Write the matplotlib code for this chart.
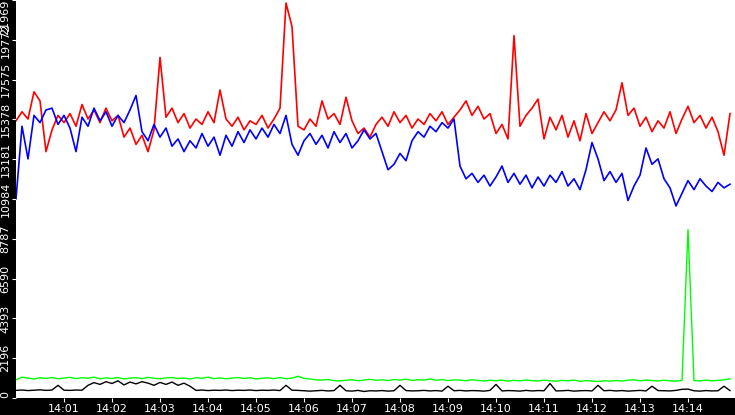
import numpy as np
import matplotlib
matplotlib.use("Agg")
import matplotlib.pyplot as plt

# one sample every 0.125 min starting at 14:00
red = [15300, 15800, 15400, 16900, 16400, 13600, 14800, 15600, 15200, 15700,
       15000, 16200, 15400, 15900, 15200, 16000, 15300, 15600, 14400, 14900,
       14000, 14500, 13600, 14800, 18800, 15500, 16000, 15200, 15700, 14900,
       15400, 15100, 15800, 15200, 17000, 15400, 15000, 15500, 14800, 15300,
       15100, 15600, 14900, 15400, 16000, 21800, 20500, 15000, 14800, 15400,
       15000, 16400, 15400, 15700, 15100, 16600, 15300, 14600, 14900, 14400,
       15100, 15500, 15000, 15800, 15200, 15600, 14900, 15400, 15100, 15700,
       15300, 15800, 15100, 15500, 15900, 16400, 15600, 16100, 15400, 15700,
       14600, 15100, 14300, 20000, 15000, 15600, 16000, 16500, 14300, 15500,
       14800, 15600, 14400, 15300, 14200, 15700, 14600, 15200, 15800, 15300,
       15900, 17400, 15600, 16000, 15000, 15500, 14700, 15300, 14900, 15800,
       14600, 15400, 16100, 15200, 15600, 14900, 15500, 14700, 13400, 15700]

blue = [11000, 15000, 13200, 15600, 15200, 15900, 16000, 15100, 15600, 14900,
        13600, 15500, 15000, 16000, 15300, 15800, 15000, 15600, 15200, 15900,
        16700, 14700, 14200, 15100, 14400, 14900, 13900, 14300, 13600, 14200,
        13800, 14600, 13900, 14400, 13400, 14500, 13900, 14700, 14100, 14800,
        14300, 14900, 14400, 15100, 14600, 15600, 14000, 13400, 14200, 14600,
        14000, 14500, 13800, 14700, 14100, 14600, 13800, 14200, 14800, 14300,
        14600, 13600, 12600, 12900, 13500, 13100, 14200, 14700, 14400, 15000,
        14700, 15200, 14900, 15400, 12800, 12100, 12400, 11900, 12300, 11700,
        12200, 12800, 11900, 12400, 11800, 12300, 11600, 12200, 11700, 12300,
        11900, 12500, 11700, 12100, 11500, 12600, 14100, 13200, 12000, 12500,
        11900, 12400, 10900, 11700, 12300, 13800, 12900, 13200, 12100, 11600,
        10600, 11300, 12000, 11500, 12100, 11700, 11400, 11900, 11600, 11800]

green = [1000, 1150, 1100, 1050, 1120, 1080, 1130, 1060, 1100, 1140,
         1070, 1120, 1090, 1150, 1060, 1110, 1080, 1130, 1050, 1100,
         1120, 1070, 1140, 1090, 1060, 1110, 1130, 1080, 1100, 1050,
         1120, 1090, 1150, 1070, 1110, 1060, 1100, 1130, 1080, 1120,
         1050, 1090, 1110, 1070, 1130, 1060, 1100, 1200, 1080, 1050,
         1000, 990, 1020, 960, 940, 980, 1010, 950, 990, 1030,
         980, 1000, 960, 1020, 990, 1040, 970, 1010, 990, 1050,
         980, 1020, 960, 1000, 990, 950, 1010, 970, 940, 980,
         950, 990, 930, 970, 950, 990, 960, 940, 980, 950,
         930, 970, 950, 990, 920, 960, 940, 910, 950, 930,
         960, 940, 980, 1010, 950, 990, 960, 940, 980, 950,
         930, 970, 9300, 960, 940, 990, 950, 970, 1000, 1060]

black = [420, 440, 410, 430, 450, 420, 440, 700, 430, 420,
         440, 430, 700, 850, 750, 900, 800, 950, 720, 880,
         780, 900, 820, 700, 860, 750, 880, 700, 820, 650,
         420, 440, 410, 430, 420, 440, 410, 430, 420, 440,
         410, 430, 420, 440, 410, 700, 430, 420, 400, 380,
         400, 420, 390, 410, 700, 400, 380, 420, 360, 400,
         390, 410, 380, 400, 700, 410, 390, 400, 420, 390,
         410, 380, 650, 400, 420, 390, 410, 400, 380, 420,
         750, 390, 410, 400, 380, 420, 390, 410, 400, 800,
         390, 400, 420, 380, 400, 410, 390, 700, 400, 420,
         390, 410, 380, 400, 420, 390, 650, 410, 400, 390,
         420, 480, 490, 400, 380, 410, 390, 400, 650, 410]

yticks = [0, 2196, 4393, 6590, 8787, 10984, 13181, 15378, 17575, 19772, 21969]
xticks = list(range(1, 15))
xlabels = ["14:%02d" % m for m in xticks]

t = np.arange(len(red)) * 0.125

fig = plt.figure(figsize=(7.35, 4.15), dpi=100, facecolor="black")
ax = fig.add_axes([16 / 735, 17 / 415, 719 / 735, 398 / 415])
ax.set_facecolor("white")

ax.plot(t, green, color="#00ff00", lw=1)
ax.plot(t, black, color="black", lw=1)
ax.plot(t, red, color="red", lw=1.2)
ax.plot(t, blue, color="blue", lw=1.2)

ax.set_xlim(0, 719 / 48)
ax.set_ylim(0, 21969)
ax.set_yticks(yticks)
ax.set_yticklabels([str(v) for v in yticks], rotation=90, va="center")
ax.get_yticklabels()[-1].set_va("top")
ax.get_yticklabels()[0].set_va("bottom")
ax.set_xticks(xticks)
ax.set_xticklabels(xlabels)
ax.tick_params(colors="white", labelsize=8, length=3, pad=1)
for s in ax.spines.values():
    s.set_visible(False)

fig.text(734 / 735, 1 / 415, "14:15", color="white", fontsize=8, ha="left", va="bottom")

fig.savefig("out.png", facecolor="black")
